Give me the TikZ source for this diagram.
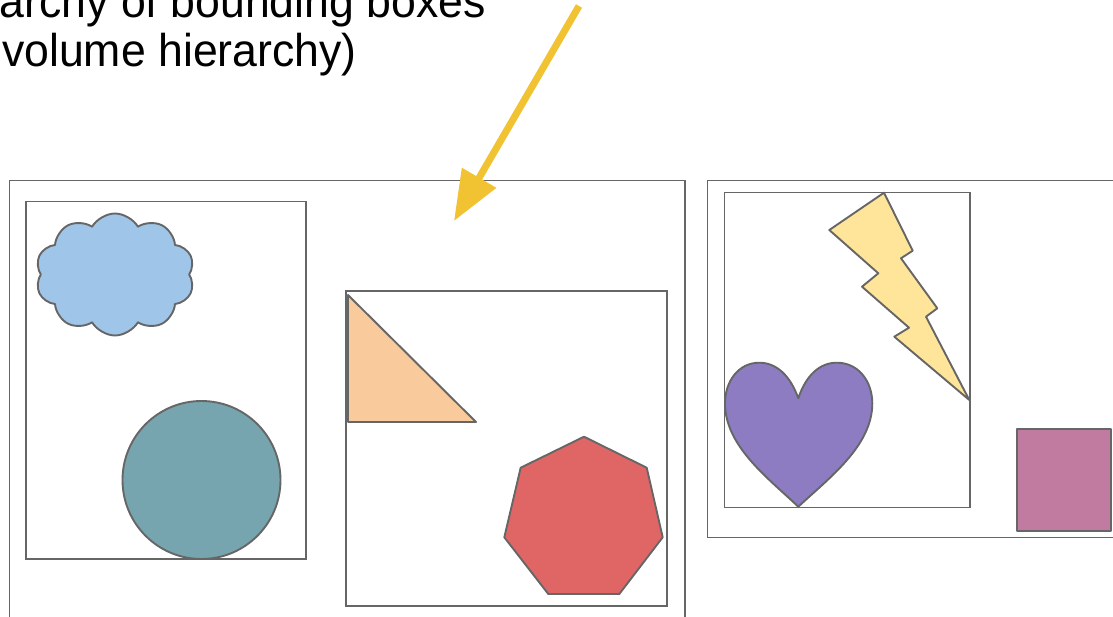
\documentclass[tikz,border=0pt]{standalone}
\usepackage{fontspec}
\setmainfont{Liberation Sans}
\usetikzlibrary{arrows.meta,shapes.symbols}
\definecolor{edgegray}{HTML}{666666}
\definecolor{cloudblue}{HTML}{9FC5E8}
\definecolor{circcyan}{HTML}{76A5AF}
\definecolor{triorange}{HTML}{F9CB9C}
\definecolor{heptred}{HTML}{E06666}
\definecolor{boltyellow}{HTML}{FFE599}
\definecolor{heartpurple}{HTML}{8E7CC3}
\definecolor{sqmagenta}{HTML}{C27BA0}
\definecolor{arrowyellow}{HTML}{F1C232}
\tikzset{
  bbox/.style={draw=edgegray, line width=1.8pt},
  shapeline/.style={draw=edgegray, line width=1.9pt, line join=round},
  bigtext/.style={font=\fontsize{46}{55}\selectfont, inner sep=0pt, text=black}
}
\begin{document}
\begin{tikzpicture}[x=1pt,y=-1pt]
\useasboundingbox (0,0) rectangle (1113,617);
\clip (0,0) rectangle (1113,617);
% title text
\node[bigtext, anchor=base east, xscale=0.97] (title1) at (486,18) {Hierarchy of bounding boxes};
\node[bigtext, anchor=base east, xscale=0.97] (title2) at (357,67) {(bounding volume hierarchy)};
% boxes
\draw[bbox] (9.5,180.5) rectangle (685,640);
\draw[bbox] (26,201.5) rectangle (306,559);
\draw[bbox] (346,291) rectangle (667,606);
\draw[bbox] (707.5,180.5) rectangle (1140,537.5);
\draw[bbox] (724.5,192.5) rectangle (970,507.5);
% cloud
\node[cloud, cloud puffs=10, cloud puff arc=120, aspect=1.3, shapeline, fill=cloudblue,
      minimum width=159pt, minimum height=122pt, inner sep=0pt] (cloud) at (115,274.5) {};
% circle
\draw[shapeline, fill=circcyan] (201.5,480) circle[radius=79];
% triangle
\draw[shapeline, fill=triorange] (348,295) -- (348,422) -- (476,422) -- cycle;
% heptagon
\draw[shapeline, fill=heptred] (584,436.7) -- (646.7,467.7) -- (662.7,537.3) -- (619.3,594)
   -- (548.3,594) -- (504.3,537.3) -- (520.7,467.7) -- cycle;
% lightning
\draw[shapeline, fill=boltyellow] (884,192.7) -- (829.3,230) -- (878.3,273.3) -- (862,286.7)
   -- (909,327.7) -- (894.3,336.7) -- (969.3,400) -- (926,316.7) -- (937.3,308.3)
   -- (901,258.3) -- (912.7,250.7) -- cycle;
% heart
\draw[shapeline, fill=heartpurple] (798.3,398.3)
   .. controls (790,375) and (776,362.7) .. (759.3,362.7)
   .. controls (738,362.7) and (725,382) .. (725,403.3)
   .. controls (725,446) and (768,478) .. (798.3,506.7)
   .. controls (829,478) and (872.3,446) .. (872.3,403.3)
   .. controls (872.3,382) and (859,362.7) .. (836.7,362.7)
   .. controls (820,362.7) and (806,375) .. (798.3,398.3) -- cycle;
% square
\draw[shapeline, fill=sqmagenta] (1016.7,429.3) rectangle (1111,530.7);
% arrow
\coordinate (arrowstart) at (579,6);
\coordinate (arrowend) at (454,221);
\draw[arrowyellow, line width=7pt, -{Triangle[length=50pt,width=38pt]}] (arrowstart) -- (arrowend);
\end{tikzpicture}
\end{document}
